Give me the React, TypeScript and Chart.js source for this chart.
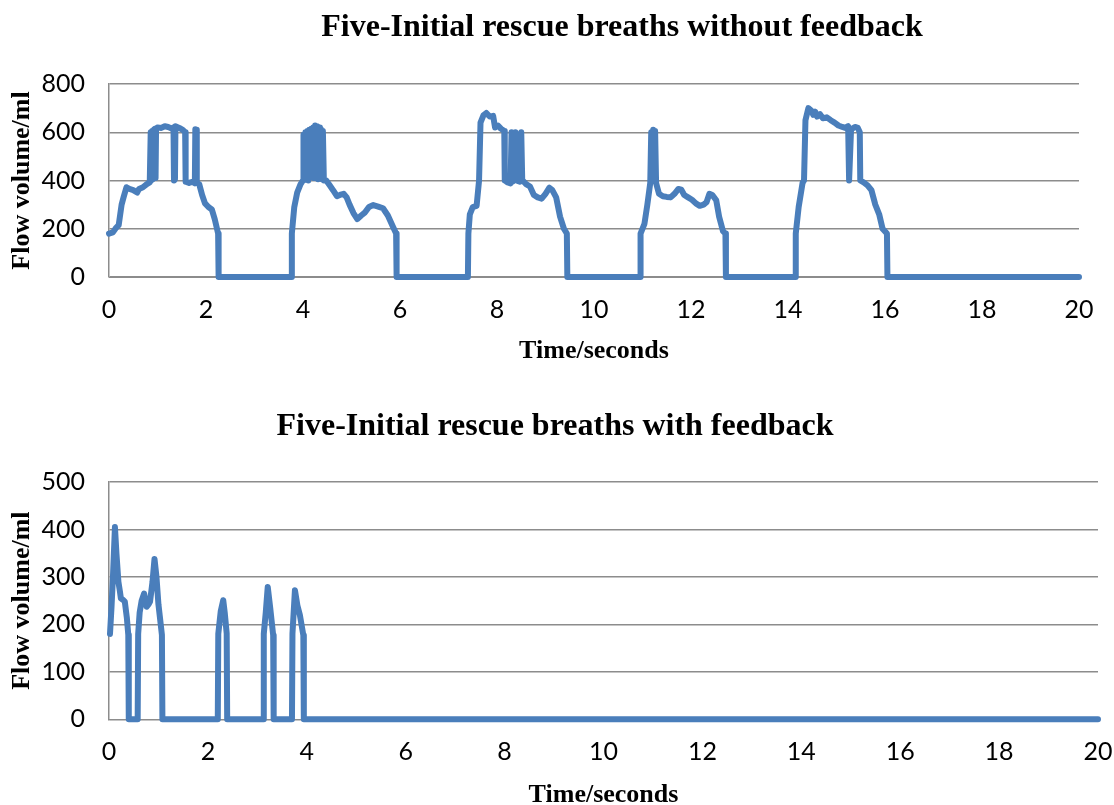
import React, { useEffect, useRef } from "react";
import { Chart, registerables } from "chart.js";

Chart.register(...registerables);

// ---- Data (time in seconds, flow volume in ml) ----
const topTitle = "Five-Initial rescue breaths without feedback";
const bottomTitle = "Five-Initial rescue breaths with feedback";
const xAxisTitle = "Time/seconds";
const yAxisTitle = "Flow volume/ml";

const topTimes = [
  0.0, 0.08, 0.15, 0.2, 0.26, 0.3, 0.36, 0.42, 0.5, 0.58, 0.62, 0.7, 0.78, 0.84, 0.86, 0.87, 0.89, 0.9, 0.92, 0.95,
  0.96, 0.97, 1.0, 1.08, 1.15, 1.22, 1.3, 1.33, 1.34, 1.36, 1.37, 1.45, 1.52, 1.57, 1.58, 1.65, 1.72, 1.77, 1.78, 1.8,
  1.81, 1.86, 1.92, 1.98, 2.05, 2.12, 2.18, 2.25, 2.26,
  3.76, 3.77, 3.82, 3.88, 3.95, 4.0, 4.01, 4.03, 4.05, 4.07, 4.09, 4.11, 4.13, 4.15, 4.17, 4.19, 4.21, 4.23, 4.25,
  4.27, 4.29, 4.31, 4.33, 4.35, 4.37, 4.39, 4.41, 4.43, 4.48, 4.55, 4.62, 4.7, 4.76, 4.84, 4.9, 4.96, 5.04, 5.12,
  5.2, 5.28, 5.36, 5.45, 5.55, 5.65, 5.75, 5.85, 5.92, 5.93,
  7.4, 7.41, 7.44, 7.5, 7.58, 7.63, 7.66, 7.72, 7.78, 7.85, 7.92, 7.96, 8.02, 8.08, 8.15, 8.16, 8.22, 8.28, 8.3,
  8.32, 8.35, 8.38, 8.4, 8.47, 8.5, 8.52, 8.6, 8.68, 8.76, 8.84, 8.92, 9.0, 9.08, 9.14, 9.22, 9.3, 9.38, 9.44, 9.45,
  10.95, 10.96, 11.04, 11.1, 11.16, 11.18, 11.2, 11.22, 11.24, 11.26, 11.28, 11.34, 11.42, 11.5, 11.58, 11.66, 11.74,
  11.8, 11.86, 11.94, 12.02, 12.1, 12.18, 12.26, 12.32, 12.38, 12.44, 12.52, 12.58, 12.66, 12.71, 12.72,
  14.15, 14.16, 14.22, 14.3, 14.33, 14.36, 14.42, 14.48, 14.52, 14.56, 14.6, 14.66, 14.72, 14.8, 14.88, 14.96,
  15.04, 15.12, 15.18, 15.24, 15.26, 15.3, 15.38, 15.44, 15.48, 15.49, 15.56, 15.64, 15.72, 15.8, 15.88, 15.95,
  16.04, 16.05, 20.0,
];
const topFlow = [
  180, 185, 205, 215, 300, 330, 372, 365, 360, 350, 365, 372, 385, 392, 600, 400, 605, 405, 610, 615,
  410, 612, 620, 618, 625, 622, 615, 620, 400, 405, 625, 618, 610, 600, 395, 390, 395, 388, 612, 610,
  390, 385, 340, 305, 290, 280, 240, 180, 0,
  0, 180, 290, 350, 385, 400, 590, 405, 600, 410, 605, 400, 610, 415, 615, 420, 620, 410, 628,
  415, 625, 405, 620, 410, 612, 405, 605, 400, 400, 380, 360, 335, 340, 345, 330, 300, 265, 240,
  255, 268, 290, 298, 292, 285, 255, 210, 180, 0,
  0, 180, 260, 290, 295, 400, 640, 670, 680, 665, 668, 620, 628, 615, 605, 400, 392, 388, 600,
  395, 400, 600, 400, 395, 600, 402, 385, 375, 340, 330, 325, 345, 370, 360, 330, 250, 200, 180, 0,
  0, 180, 220, 300, 390, 600, 420, 610, 430, 605, 390, 345, 335, 332, 330, 345, 365,
  362, 340, 330, 320, 305, 295, 300, 310, 345, 340, 318, 250, 190, 180, 0,
  0, 180, 290, 390, 400, 650, 700, 690, 672, 685, 665, 675, 658, 662, 650, 640,
  628, 622, 618, 625, 400, 612, 622, 618, 600, 400, 392, 380, 360, 300, 260, 200,
  180, 0, 0,
];

const bottomTimes = [
  0.02, 0.05, 0.08, 0.12, 0.15, 0.19, 0.22, 0.24, 0.28, 0.32, 0.36, 0.39, 0.4,
  0.58, 0.59, 0.62, 0.66, 0.71, 0.76, 0.8, 0.83, 0.88, 0.92, 0.96, 1.0, 1.07, 1.08,
  2.2, 2.21, 2.26, 2.31, 2.34, 2.38, 2.39,
  3.12, 3.13, 3.17, 3.21, 3.26, 3.32, 3.33,
  3.7, 3.71, 3.76, 3.81, 3.86, 3.93, 3.94,
  20.0,
];
const bottomFlow = [
  180, 235, 300, 405, 350, 290, 270, 255, 252, 248, 215, 178, 0,
  0, 180, 225, 250, 265, 237, 242, 248, 290, 338, 300, 242, 178, 0,
  0, 180, 228, 251, 225, 181, 0,
  0, 180, 225, 279, 235, 177, 0,
  0, 180, 272, 240, 220, 177, 0,
  0,
];

const xTickStep = 2;
const topYMax = 800;
const topYStep = 200;
const bottomYMax = 500;
const bottomYStep = 100;

const LINE_COLOR = "#4a7ebb";
const GRID_COLOR = "#8c8c8c";
const SERIF = '"Liberation Serif", "Times New Roman", serif';
const SANS = 'Lato, "Open Sans", sans-serif';

type Geo = {
  top: number;
  height: number;
  areaTop: number;
  titleX: number;
  titleY: number;
  xScaleHeight: number;
  xTickPad: number;
  xTitlePadBottom: number;
  rightPad: number;
};

function FlowChart(props: {
  times: number[];
  flows: number[];
  title: string;
  yMax: number;
  yStep: number;
  geo: Geo;
}) {
  const ref = useRef<HTMLCanvasElement | null>(null);
  const { times, flows, title, yMax, yStep, geo } = props;

  useEffect(() => {
    if (!ref.current) return;
    const points = times.map((t, i) => ({ x: t, y: flows[i] }));
    const titlePlugin = {
      id: "placedTitle",
      afterDraw(chart: any) {
        const ctx = chart.ctx;
        ctx.save();
        ctx.font = `bold 32px ${SERIF}`;
        ctx.fillStyle = "#000";
        ctx.textAlign = "center";
        ctx.textBaseline = "middle";
        ctx.fillText(title, geo.titleX, geo.titleY);
        ctx.restore();
      },
    };
    const chart = new Chart(ref.current, {
      type: "line",
      data: {
        datasets: [
          {
            data: points,
            borderColor: LINE_COLOR,
            backgroundColor: LINE_COLOR,
            borderWidth: 6,
            pointRadius: 0,
            tension: 0,
            borderJoinStyle: "round",
            borderCapStyle: "round",
            clip: false,
          } as any,
        ],
      },
      plugins: [titlePlugin],
      options: {
        responsive: false,
        animation: false,
        layout: { padding: { left: 0, right: geo.rightPad, top: geo.areaTop, bottom: 0 } },
        plugins: {
          legend: { display: false },
          tooltip: { enabled: false },
          title: { display: false },
        },
        scales: {
          x: {
            type: "linear",
            min: 0,
            max: 20,
            afterFit: (s: any) => {
              s.height = geo.xScaleHeight;
              s.paddingLeft = 0;
              s.paddingRight = 0;
            },
            ticks: {
              stepSize: xTickStep,
              color: "#000",
              font: { family: SANS, size: 25 },
              padding: geo.xTickPad,
              maxRotation: 0,
            },
            grid: { display: false, drawTicks: false },
            border: { display: true, color: GRID_COLOR, width: 1 },
            title: {
              display: true,
              text: xAxisTitle,
              color: "#000",
              font: { family: SERIF, size: 26, weight: "bold" },
              padding: { top: 0, bottom: geo.xTitlePadBottom },
            },
          },
          y: {
            type: "linear",
            min: 0,
            max: yMax,
            afterFit: (s: any) => {
              s.width = 109;
            },
            ticks: {
              stepSize: yStep,
              color: "#000",
              font: { family: SANS, size: 25 },
              padding: 24,
            },
            grid: { color: GRID_COLOR, lineWidth: 1.5, drawTicks: false },
            border: { display: true, color: GRID_COLOR, width: 1.5 },
            title: {
              display: true,
              text: yAxisTitle,
              color: "#000",
              font: { family: SERIF, size: 26, weight: "bold" },
              padding: { top: 6.4, bottom: 0 },
            },
          },
        },
      },
    } as any);
    return () => chart.destroy();
  }, [times, flows, title, yMax, yStep, geo]);

  return (
    <canvas
      ref={ref}
      width={1114}
      height={geo.height}
      style={{ position: "absolute", left: 0, top: geo.top, display: "block" }}
    />
  );
}

const topGeo: Geo = {
  top: 0,
  height: 385,
  areaTop: 84,
  titleX: 622,
  titleY: 28,
  xScaleHeight: 108,
  xTickPad: 18,
  xTitlePadBottom: 18.4,
  rightPad: 35,
};

const bottomGeo: Geo = {
  top: 385,
  height: 440,
  areaTop: 97,
  titleX: 555,
  titleY: 42,
  xScaleHeight: 105.7,
  xTickPad: 17.7,
  xTitlePadBottom: 14.4,
  rightPad: 16,
};

export default function App() {
  return (
    <div
      style={{
        position: "fixed",
        left: 0,
        top: 0,
        width: 1114,
        height: 805,
        overflow: "hidden",
        background: "#fff",
      }}
    >
      <FlowChart times={topTimes} flows={topFlow} title={topTitle} yMax={topYMax} yStep={topYStep} geo={topGeo} />
      <FlowChart
        times={bottomTimes}
        flows={bottomFlow}
        title={bottomTitle}
        yMax={bottomYMax}
        yStep={bottomYStep}
        geo={bottomGeo}
      />
    </div>
  );
}
